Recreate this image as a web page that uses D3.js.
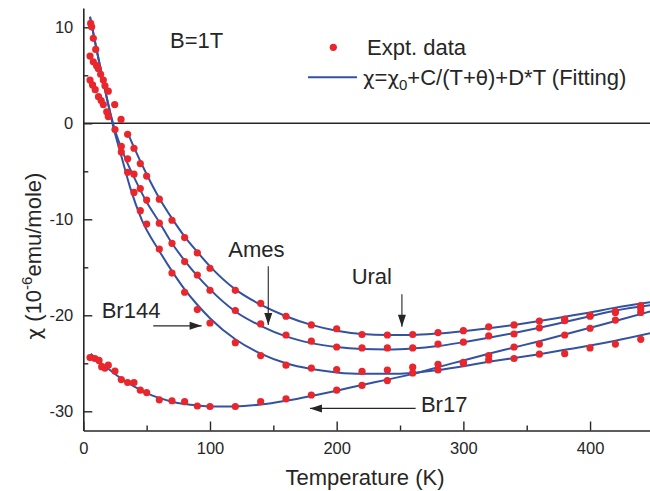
<!DOCTYPE html>
<html>
<head>
<meta charset="utf-8">
<script src="https://cdn.jsdelivr.net/npm/d3@7"></script>
<style>
  body { margin: 0; background: #fff; }
  svg { display: block; font-family: "Liberation Sans", Arial, sans-serif; }
  .greek { font-family: "DejaVu Sans", sans-serif; }
</style>
</head>
<body>
<svg id="chart" width="650" height="491"></svg>
<script>
// measured points, chi in 10^-6 emu/mole
const uralT = [5.3, 7.9, 10.5, 11.8, 13.7, 15.8, 17.1, 19.7, 24.8, 29.8, 35, 40, 45, 50, 60, 70, 80, 90, 100,
  120, 140, 160, 180, 200, 220, 240, 260, 280, 300, 320, 340, 360, 380, 400, 420, 440];
const uralChi = [7.0, 6.4, 6.0, 5.7, 5.1, 4.5, 3.9, 3.35, 1.95, 0.4, -1.15, -2.6, -4.2, -5.5, -7.9, -10.1, -11.9, -13.5, -15.1,
  -17.4, -18.75, -20.1, -21.0, -21.4, -22.0, -22.05, -22.0, -21.8, -21.6, -21.2, -21.0, -20.6, -20.4, -20.1, -19.6, -19.0];

const amesT = [5.3, 7.3, 9.4, 12, 14.1, 15.8, 18.5, 19.7, 25, 30, 35, 40, 45, 50, 60, 70, 80, 90, 100,
  120, 140, 160, 180, 200, 220, 240, 260, 280, 300, 320, 340, 360, 380, 400, 420, 440];
const amesChi = [4.5, 4.0, 3.5, 2.77, 2.37, 1.95, 1.2, 0.7, -0.65, -2.4, -3.7, -5.3, -6.8, -8.0, -10.4, -12.5, -14.4, -15.8, -17.4,
  -19.5, -20.9, -22.05, -22.7, -23.3, -23.4, -23.4, -23.4, -23.0, -22.8, -22.15, -21.95, -21.3, -20.56, -20.0, -19.7, -19.3];

const br144T = [5.8, 6.6, 7.9, 9.8, 30, 35, 40, 45, 50, 60, 70, 80, 90, 100,
  120, 140, 160, 180, 200, 220, 240, 260, 280, 300, 320, 340, 360, 380, 400, 420, 440];
const br144Chi = [10.4, 10.05, 8.85, 7.7, -3.0, -5.1, -7.2, -9.1, -10.5, -13.1, -15.6, -17.6, -19.4, -20.8,
  -22.85, -24.2, -25.2, -25.5, -25.65, -25.85, -25.7, -25.4, -25.7, -25.0, -24.65, -24.5, -24.05, -24.0, -23.4, -23.0, -22.5];

const br17T = [5.3, 9.2, 12.4, 14.5, 17.1, 19.7, 25, 30, 35, 40, 45, 50, 60, 70, 80, 90, 100,
  120, 140, 160, 180, 200, 220, 240, 260, 280, 300, 320, 340, 360, 380, 400, 420, 440];
const br17Chi = [-24.4, -24.5, -24.7, -25.35, -25.5, -25.2, -25.8, -26.7, -27.0, -27.0, -27.8, -28.05, -28.8, -28.9, -29.0, -29.45, -29.5,
  -29.5, -29.0, -28.7, -28.3, -27.8, -27.3, -26.8, -26.0, -25.1, -24.9, -24.2, -23.3, -23.0, -22.05, -21.35, -20.5, -19.7];

// fitted curves
const uralFitT = [35, 40, 50, 60, 70, 80, 90, 100, 120, 140, 160, 180, 200, 220, 240, 260, 280, 300, 320, 340, 360, 380, 400, 420, 450];
const uralFit = [-1.0, -2.5, -5.3, -7.8, -9.9, -11.8, -13.4, -14.9, -17.3, -18.9, -20.1, -21.0, -21.6, -21.95, -22.05, -22.05,
  -21.9, -21.65, -21.35, -21.0, -20.6, -20.15, -19.7, -19.2, -18.6];

const amesFitT = [5.3, 10, 15, 20, 25, 30, 35, 40, 50, 60, 70, 80, 90, 100, 120, 140, 160, 180, 200, 220, 240, 260, 280, 300,
  320, 340, 360, 380, 400, 420, 450];
const amesFit = [11.1, 8.0, 4.8, 1.8, -0.7, -2.6, -4.2, -5.6, -8.2, -10.3, -12.5, -14.3, -15.9, -17.3, -19.6, -21.1, -22.2, -22.9,
  -23.3, -23.5, -23.55, -23.45, -23.2, -22.8, -22.35, -21.85, -21.3, -20.7, -20.1, -19.5, -18.9];

const br144FitT = [5.3, 10, 15, 20, 23, 30, 37, 46, 60, 70, 80, 90, 100, 120, 140, 160, 180, 200, 220, 240, 260, 280, 300,
  320, 340, 360, 380, 400, 420, 450];
const br144Fit = [11.1, 8.0, 4.8, 1.8, 0, -3.4, -6.7, -10.0, -13.3, -15.4, -17.3, -18.9, -20.3, -22.5, -24.0, -25.0, -25.6,
  -25.95, -26.1, -26.1, -26.0, -25.7, -25.3, -24.85, -24.45, -24.05, -23.6, -23.15, -22.65, -21.8];

const br17FitT = [5.8, 10, 20, 30, 40, 50, 60, 70, 80, 90, 100, 120, 140, 160, 180, 200, 220, 240, 260, 280, 300, 320, 340,
  360, 380, 400, 420, 450];
const br17Fit = [-24.0, -24.5, -25.6, -26.6, -27.4, -28.1, -28.6, -29.0, -29.25, -29.4, -29.5, -29.5, -29.3, -28.9, -28.4,
  -27.85, -27.25, -26.7, -26.1, -25.4, -24.7, -24.0, -23.35, -22.7, -22.0, -21.3, -20.6, -19.5];

const xTicks = [0, 100, 200, 300, 400];
const xMinor = [50, 150, 250, 350, 450];
const yTicks = [-30, -20, -10, 0, 10];
const yMinor = [-25, -15, -5, 5];

const series = [
  { name: 'Ural', t: uralT, chi: uralChi, fitT: uralFitT, fit: uralFit },
  { name: 'Ames', t: amesT, chi: amesChi, fitT: amesFitT, fit: amesFit },
  { name: 'Br144', t: br144T, chi: br144Chi, fitT: br144FitT, fit: br144Fit },
  { name: 'Br17', t: br17T, chi: br17Chi, fitT: br17FitT, fit: br17Fit }
];

// labels with arrows, in data units
const notes = [
  { text: 'Ames', at: [114.4, -13.9], from: [146, -14.9], to: [146, -21.0] },
  { text: 'Ural', at: [211.8, -16.7], from: [251.5, -17.8], to: [251.5, -21.2] },
  { text: 'Br144', at: [14.5, -20.3], from: [55.2, -21.1], to: [93.4, -21.1] },
  { text: 'Br17', at: [266.5, -30.1], from: [262.3, -29.7], to: [178.9, -29.7] }
];

const red = '#e8262b';
const blue = '#3452a2';
const ink = '#262626';

const svg = d3.select('#chart');
const x = d3.scaleLinear().domain([0, 450]).range([83.3, 653.4]);
const y = d3.scaleLinear().domain([-32, 12]).range([430.5, 8.1]);

// axes
const styleAxis = g => {
  g.select('.domain').attr('stroke', ink).attr('stroke-width', 1.6);
  g.selectAll('.tick line').attr('stroke', ink).attr('stroke-width', 1.4);
  g.selectAll('.tick text').attr('fill', ink).style('font-size', '16.5px').style('font-family', '"Liberation Sans", Arial, sans-serif');
};

svg.append('g')
  .attr('transform', `translate(0,${y(-32)})`)
  .call(d3.axisBottom(x).tickValues(xTicks).tickSize(-9).tickSizeOuter(0).tickPadding(12).tickFormat(d => String(d)))
  .call(styleAxis);
svg.append('g')
  .attr('transform', `translate(0,${y(-32)})`)
  .call(d3.axisBottom(x).tickValues(xMinor).tickSize(-5).tickFormat(() => ''))
  .call(g => g.select('.domain').remove())
  .call(styleAxis);

svg.append('g')
  .attr('transform', `translate(${x(0)},0)`)
  .call(d3.axisLeft(y).tickValues(yTicks).tickSize(-9).tickSizeOuter(0).tickPadding(10).tickFormat(d => String(d)))
  .call(styleAxis);
svg.append('g')
  .attr('transform', `translate(${x(0)},0)`)
  .call(d3.axisLeft(y).tickValues(yMinor).tickSize(-5).tickFormat(() => ''))
  .call(g => g.select('.domain').remove())
  .call(styleAxis);

// zero line
svg.append('line')
  .attr('x1', x(0)).attr('x2', x(450))
  .attr('y1', y(0)).attr('y2', y(0))
  .attr('stroke', ink).attr('stroke-width', 1.6);

// fits
const line = d3.line()
  .x(d => x(d[0]))
  .y(d => y(d[1]))
  .curve(d3.curveMonotoneX);

svg.append('g')
  .selectAll('path')
  .data(series)
  .join('path')
  .attr('d', s => line(s.fitT.map((t, i) => [t, s.fit[i]])))
  .attr('fill', 'none')
  .attr('stroke', blue)
  .attr('stroke-width', 2);

// points
svg.append('g')
  .selectAll('g')
  .data(series)
  .join('g')
  .selectAll('circle')
  .data(s => s.t.map((t, i) => [t, s.chi[i]]))
  .join('circle')
  .attr('cx', d => x(d[0]))
  .attr('cy', d => y(d[1]))
  .attr('r', 3.6)
  .attr('fill', red);

// annotations
const arrowHead = (from, to) => {
  let dx = x(to[0]) - x(from[0]);
  let dy = y(to[1]) - y(from[1]);
  let len = Math.sqrt(dx * dx + dy * dy);
  let ux = dx / len;
  let uy = dy / len;
  let tx = x(to[0]);
  let ty = y(to[1]);
  let bx = tx - ux * 12;
  let by = ty - uy * 12;
  return `M${tx},${ty}L${bx - uy * 4},${by + ux * 4}L${bx + uy * 4},${by - ux * 4}Z`;
};

const note = svg.append('g').selectAll('g').data(notes).join('g');
note.append('text')
  .attr('x', d => x(d.at[0]))
  .attr('y', d => y(d.at[1]))
  .attr('fill', ink)
  .style('font-size', '22px')
  .text(d => d.text);
note.append('line')
  .attr('x1', d => x(d.from[0])).attr('y1', d => y(d.from[1]))
  .attr('x2', d => x(d.to[0])).attr('y2', d => y(d.to[1]))
  .attr('stroke', ink).attr('stroke-width', 1.1);
note.append('path')
  .attr('d', d => arrowHead(d.from, d.to))
  .attr('fill', ink);

svg.append('text')
  .attr('x', x(68.4)).attr('y', y(7.8))
  .attr('fill', ink)
  .style('font-size', '22px')
  .text('B=1T');

// legend
const legend = svg.append('g');
legend.append('circle').attr('cx', 333.3).attr('cy', 47.3).attr('r', 3.6).attr('fill', red);
legend.append('text').attr('x', 367).attr('y', 55).attr('fill', ink).style('font-size', '22px').text('Expt. data');
legend.append('line').attr('x1', 308).attr('x2', 357).attr('y1', 77.3).attr('y2', 77.3)
  .attr('stroke', blue).attr('stroke-width', 2);
const fitLabel = legend.append('text').attr('x', 363).attr('y', 85).attr('fill', ink).style('font-size', '22px');
fitLabel.append('tspan').attr('class', 'greek').style('font-size', '20px').text('χ');
fitLabel.append('tspan').text('=');
fitLabel.append('tspan').attr('class', 'greek').style('font-size', '20px').text('χ');
fitLabel.append('tspan').attr('dy', 5).style('font-size', '15px').text('0');
fitLabel.append('tspan').attr('dy', -5).text('+C/(T+');
fitLabel.append('tspan').attr('class', 'greek').style('font-size', '20px').text('θ');
fitLabel.append('tspan').text(')+D*T (Fitting)');

// axis titles
svg.append('text')
  .attr('x', 365).attr('y', 485)
  .attr('text-anchor', 'middle')
  .attr('fill', ink)
  .style('font-size', '22px')
  .text('Temperature (K)');

const yTitle = svg.append('text')
  .attr('transform', 'translate(41,256) rotate(-90)')
  .attr('text-anchor', 'middle')
  .attr('fill', ink)
  .style('font-size', '22px');
yTitle.append('tspan').attr('class', 'greek').style('font-size', '20px').text('χ');
yTitle.append('tspan').text(' (10');
yTitle.append('tspan').attr('dy', -9).style('font-size', '15px').text('-6');
yTitle.append('tspan').attr('dy', 9).text('emu/mole)');
</script>
</body>
</html>
